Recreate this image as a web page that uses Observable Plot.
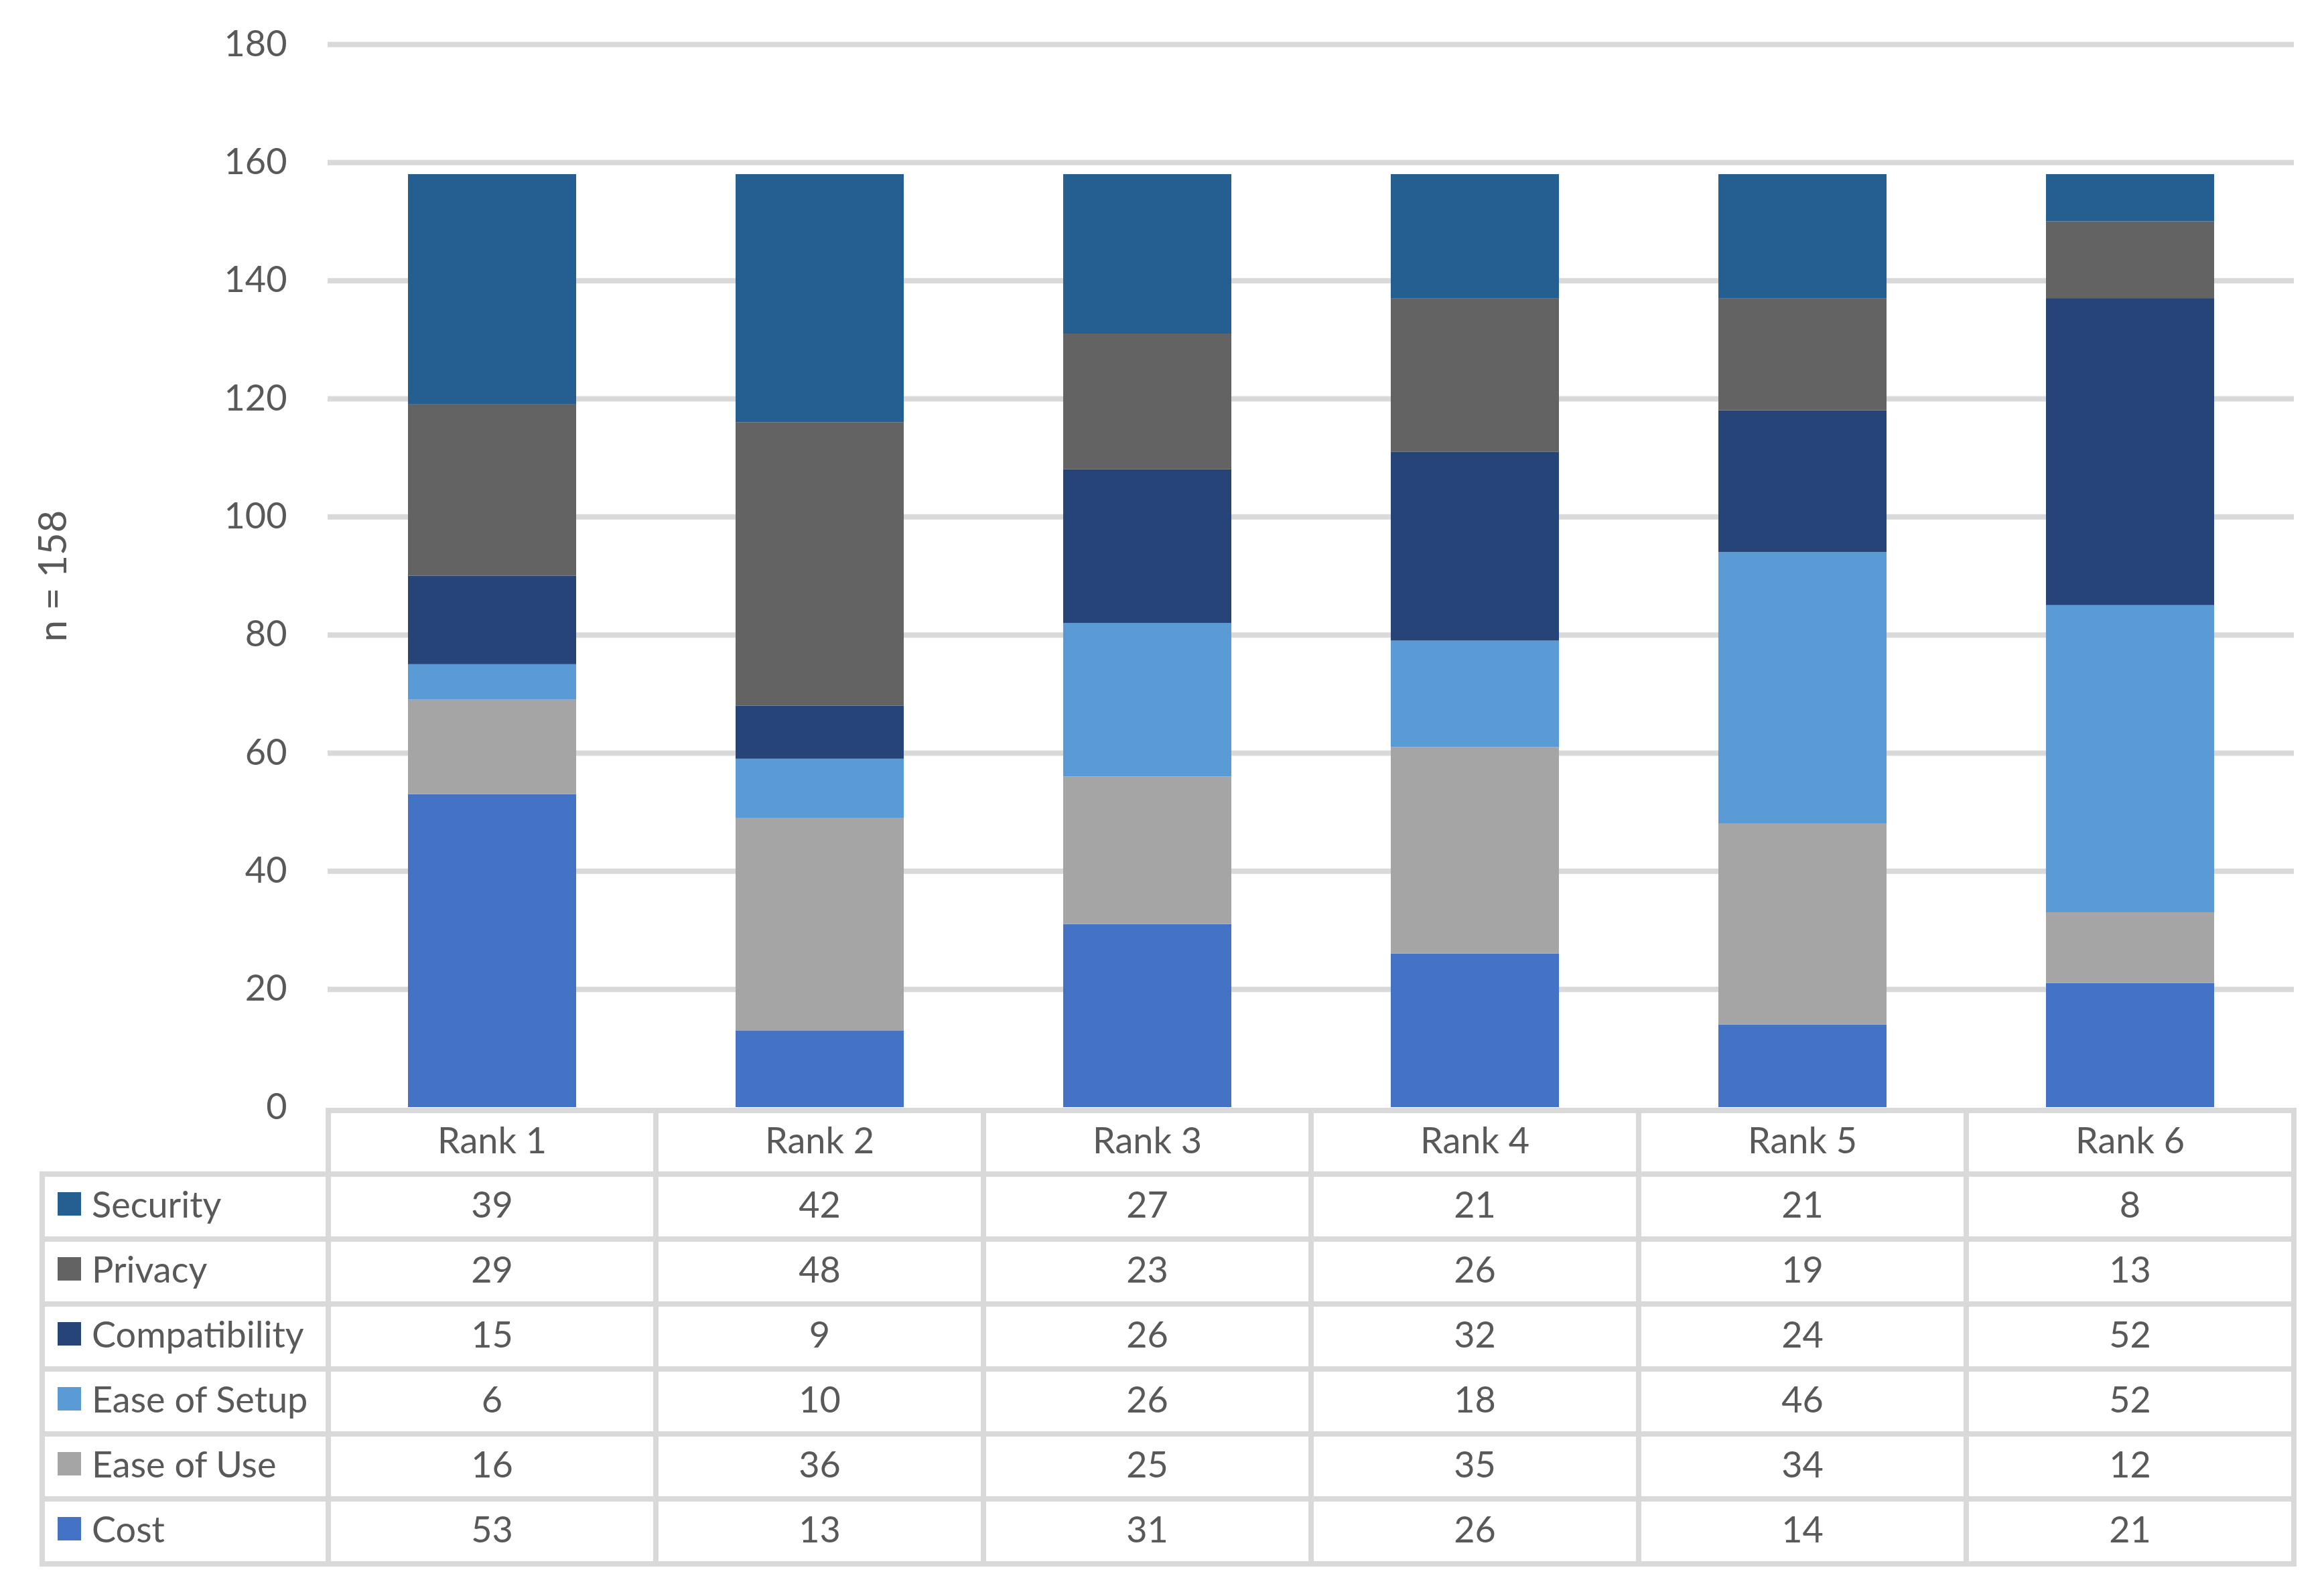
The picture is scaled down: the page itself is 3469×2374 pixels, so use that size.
<!DOCTYPE html>
<html>
<head>
<meta charset="utf-8">
<script src="https://cdn.jsdelivr.net/npm/d3@7"></script>
<script src="https://cdn.jsdelivr.net/npm/@observablehq/plot@0.6"></script>
<style>
html, body { margin: 0; padding: 0; background: #fff; }
#wrap { position: relative; width: 3469px; height: 2374px; font-family: Lato, "Open Sans", sans-serif; color: #595959; background: #fff; }
#chart svg { display: block; }
#table { position: absolute; left: 0; top: 1654px; width: 3469px; height: 720px; }
.ln { position: absolute; background: #D9D9D9; }
.cell { position: absolute; display: flex; align-items: center; justify-content: center; font-size: 54px; line-height: 1; white-space: nowrap; }
.leg { justify-content: flex-start; }
.sw { display: inline-block; width: 35px; height: 35px; margin-right: 16px; flex: none; }
</style>
</head>
<body>
<div id="wrap">
  <div id="chart"></div>
  <div id="table"></div>
</div>
<script>
// ---- data ----
const ranks = ["Rank 1", "Rank 2", "Rank 3", "Rank 4", "Rank 5", "Rank 6"];
const factors = ["Security", "Privacy", "Compatibility", "Ease of Setup", "Ease of Use", "Cost"];
const factorColors = ["#255E91", "#636363", "#264478", "#5B9BD5", "#A5A5A5", "#4472C4"];
const security      = [39, 42, 27, 21, 21, 8];
const privacy       = [29, 48, 23, 26, 19, 13];
const compatibility = [15, 9, 26, 32, 24, 52];
const easeOfSetup   = [6, 10, 26, 18, 46, 52];
const easeOfUse     = [16, 36, 25, 35, 34, 12];
const cost          = [53, 13, 31, 26, 14, 21];
const yTicks = [0, 20, 40, 60, 80, 100, 120, 140, 160, 180];
const yTitle = "n = 158";

const seriesValues = [security, privacy, compatibility, easeOfSetup, easeOfUse, cost];

// stacked bottom -> top: Cost, Ease of Use, Ease of Setup, Compatibility, Privacy, Security
const data = [];
for (let f = factors.length - 1; f >= 0; f--) {
  ranks.forEach((r, i) => data.push({rank: r, factor: factors[f], value: seriesValues[f][i]}));
}

const plot = Plot.plot({
  width: 3469,
  height: 1654,
  marginTop: 66,
  marginBottom: 1,
  marginLeft: 489,
  marginRight: 45,
  style: {fontFamily: "Lato, 'Open Sans', sans-serif", fontSize: "54px", color: "#595959", background: "#fff", overflow: "visible"},
  x: {domain: ranks, paddingInner: 0.487, paddingOuter: 0.2435, axis: null},
  y: {domain: [0, 180], label: null},
  color: {domain: factors, range: factorColors},
  marks: [
    Plot.gridY(yTicks.filter(v => v > 0), {stroke: "#D9D9D9", strokeOpacity: 1, strokeWidth: 8}),
    Plot.axisY(yTicks, {tickSize: 0, tickPadding: 61, fontSize: 54, fill: "#595959", label: null}),
    Plot.barY(data, {x: "rank", y: "value", fill: "factor", inset: 0}),
    Plot.text([yTitle], {frameAnchor: "left", text: d => d, rotate: -90, textAnchor: "middle", lineAnchor: "middle", dx: -409, fontSize: 58, fill: "#595959"})
  ]
});
document.getElementById("chart").appendChild(plot);

// ---- data table below the chart, aligned to the x band scale ----
const xs = plot.scale("x");
const step = xs.step;
const bw = xs.bandwidth;
const colEdges = ranks.map(r => xs.apply(r) - (step - bw) / 2);
colEdges.push(colEdges[colEdges.length - 1] + step);
const legendLeft = 63;
const headerTop = 4, headerBottom = 99, rowH = 97;
const rows = [headerTop, headerBottom];
for (let k = 1; k <= factors.length; k++) rows.push(headerBottom + k * rowH);
const T = 8;
const tbl = document.getElementById("table");

function div(cls, css, html) {
  const d = document.createElement("div");
  d.className = cls;
  Object.assign(d.style, css);
  if (html != null) d.innerHTML = html;
  tbl.appendChild(d);
  return d;
}
function hline(yc, x0, x1) { div("ln", {left: x0 + "px", top: (yc - T / 2) + "px", width: (x1 - x0) + "px", height: T + "px"}); }
function vline(xc, y0, y1) { div("ln", {left: (xc - T / 2) + "px", top: y0 + "px", width: T + "px", height: (y1 - y0) + "px"}); }

const right = colEdges[colEdges.length - 1];
hline(rows[0], colEdges[0] - T / 2, right + T / 2);
for (let k = 1; k < rows.length; k++) hline(rows[k], legendLeft - T / 2, right + T / 2);
vline(legendLeft, rows[1] - T / 2, rows[rows.length - 1] + T / 2);
colEdges.forEach(e => vline(e, rows[0] - T / 2, rows[rows.length - 1] + T / 2));

// header: rank labels
ranks.forEach((r, i) => {
  div("cell", {left: colEdges[i] + "px", width: step + "px", top: (rows[0] - 4) + "px", height: (rows[1] - rows[0]) + "px"}, r);
});
// rows
factors.forEach((f, j) => {
  const top = rows[j + 1] - 4;
  const h = rows[j + 2] - rows[j + 1];
  const leg = div("cell leg", {left: "86px", width: (colEdges[0] - 90) + "px", top: top + "px", height: h + "px"});
  const sw = document.createElement("span");
  sw.className = "sw";
  sw.style.background = factorColors[j];
  leg.appendChild(sw);
  leg.appendChild(document.createTextNode(f));
  seriesValues[j].forEach((v, i) => {
    div("cell", {left: colEdges[i] + "px", width: step + "px", top: top + "px", height: h + "px"}, String(v));
  });
});
</script>
</body>
</html>
